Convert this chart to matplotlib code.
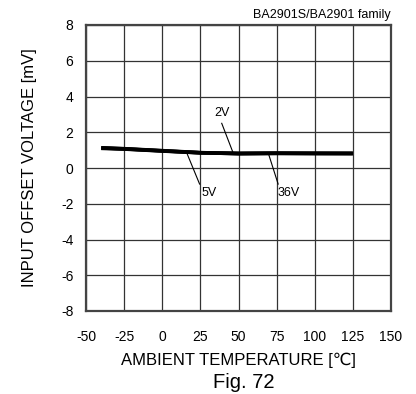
import matplotlib.pyplot as plt

plt.rcParams['font.family'] = ['Liberation Sans', 'DejaVu Sans']
plt.rcParams['axes.unicode_minus'] = False

# Input offset voltage vs ambient temperature (three supply voltages)
temps = [-40, -25, 0, 25, 50, 75, 100, 125]
vio_2v = [1.13, 1.08, 0.97, 0.86, 0.80, 0.82, 0.82, 0.81]
vio_5v = [1.12, 1.07, 0.96, 0.85, 0.81, 0.82, 0.81, 0.81]
vio_36v = [1.10, 1.06, 0.95, 0.85, 0.82, 0.83, 0.82, 0.82]

xticks = [-50, -25, 0, 25, 50, 75, 100, 125, 150]
yticks = [-8, -6, -4, -2, 0, 2, 4, 6, 8]

fig = plt.figure(figsize=(4.16, 3.94), dpi=100)
ax = fig.add_axes([86 / 416, 1 - 311 / 394, 305 / 416, 286 / 394])

for v in (vio_2v, vio_5v, vio_36v):
    ax.plot(temps, v, color='black', linewidth=2.6, solid_capstyle='butt')

ax.set_xlim(-50, 150)
ax.set_ylim(-8, 8)
ax.set_xticks(xticks)
ax.set_yticks(yticks)
ax.tick_params(length=0, labelsize=10)
ax.tick_params(axis='x', pad=14)
ax.tick_params(axis='y', pad=9)
ax.grid(True, color='#333333', linewidth=0.9)
for s in ax.spines.values():
    s.set_color('#444444')
    s.set_linewidth(1.6)

# callout labels
ax.plot([39, 46.5], [2.5, 0.84], color='black', linewidth=0.8)
ax.text(39, 2.75, '2V', fontsize=9, ha='center', va='bottom')
ax.plot([16, 24.5], [0.86, -0.9], color='black', linewidth=0.8)
ax.text(25.5, -1.4, '5V', fontsize=9, ha='left', va='center')
ax.plot([69.5, 76], [0.84, -0.9], color='black', linewidth=0.8)
ax.text(75.5, -1.4, '36V', fontsize=9, ha='left', va='center')

ax.set_xlabel('AMBIENT TEMPERATURE [\u2103]', fontsize=12, labelpad=6)
ax.set_ylabel('INPUT OFFSET VOLTAGE [mV]', fontsize=12, labelpad=17)
fig.text(391 / 416, 1 - 15 / 394, 'BA2901S/BA2901 family', fontsize=9,
         ha='right', va='center')
fig.text(244 / 416, 1 - 383 / 394, 'Fig. 72', fontsize=14.5, ha='center', va='center')

fig.savefig('out.png', dpi=100)
